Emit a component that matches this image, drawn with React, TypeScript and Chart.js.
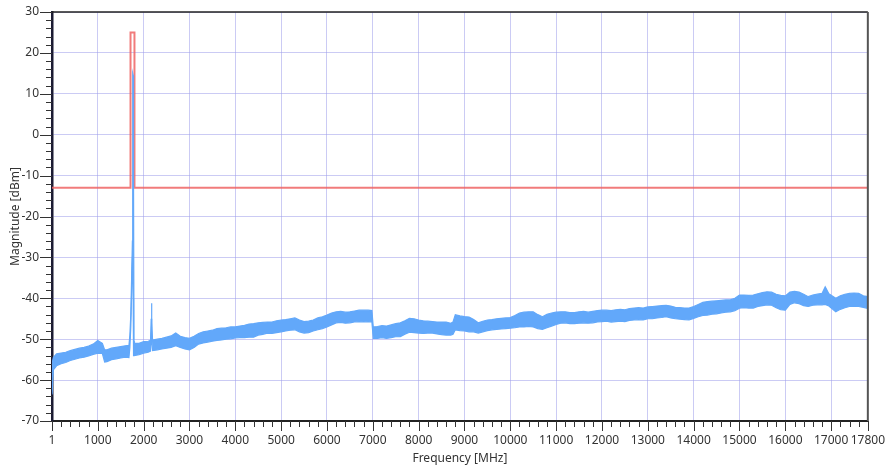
import React, { useEffect, useRef } from 'react';
import { Chart, registerables } from 'chart.js';

Chart.register(...registerables);

// Spectrum trace: frequency points (MHz) with lower / upper envelope of the noisy trace (dBm)
const freqs = [
  1, 30, 100, 200, 300, 400, 500, 600, 700, 800,
  900, 1000, 1100, 1150, 1200, 1300, 1400, 1500, 1600, 1680,
  1700, 1720, 1740, 1755, 1762, 1772, 1780, 1790, 1800, 1900,
  2000, 2100, 2150, 2165, 2172, 2180, 2195, 2300, 2400, 2500,
  2600, 2700, 2800, 2900, 3000, 3100, 3200, 3300, 3400, 3500,
  3600, 3700, 3800, 3900, 4000, 4100, 4200, 4300, 4400, 4500,
  4600, 4700, 4800, 4900, 5000, 5100, 5200, 5300, 5400, 5500,
  5600, 5700, 5800, 5900, 6000, 6100, 6200, 6300, 6400, 6500,
  6600, 6700, 6800, 6900, 6980, 7010, 7100, 7200, 7300, 7400,
  7500, 7600, 7700, 7800, 7900, 8000, 8100, 8200, 8300, 8400,
  8500, 8600, 8700, 8750, 8800, 8900, 9000, 9100, 9200, 9300,
  9400, 9500, 9600, 9700, 9800, 9900, 10000, 10100, 10200, 10300,
  10400, 10500, 10600, 10700, 10800, 10900, 11000, 11100, 11200, 11300,
  11400, 11500, 11600, 11700, 11800, 11900, 12000, 12100, 12200, 12300,
  12400, 12500, 12600, 12700, 12800, 12900, 13000, 13100, 13200, 13300,
  13400, 13500, 13600, 13700, 13800, 13900, 14000, 14100, 14200, 14300,
  14400, 14500, 14600, 14700, 14800, 14900, 15000, 15100, 15200, 15300,
  15400, 15500, 15600, 15700, 15800, 15900, 16000, 16100, 16200, 16300,
  16400, 16500, 16600, 16700, 16800, 16870, 16950, 17100, 17200, 17300,
  17400, 17500, 17600, 17700, 17800,
];

const traceLower = [
  -63.5, -57.5, -56.5, -56.0, -55.7, -55.2, -54.9, -54.6, -54.4, -54.1,
  -53.7, -53.4, -53.5, -55.6, -55.5, -55.0, -54.8, -54.6, -54.4, -54.5,
  -52.0, -47.0, -38.0, -30.0, -26.0, -40.0, -54.0, -54.0, -54.0, -53.8,
  -53.4, -53.2, -52.9, -50.0, -45.0, -50.0, -52.8, -52.6, -52.4, -52.2,
  -52.0, -51.6, -52.0, -52.4, -52.6, -52.0, -51.2, -50.9, -50.7, -50.5,
  -50.3, -50.2, -50.0, -49.9, -49.7, -49.6, -49.6, -49.5, -49.5, -49.0,
  -48.8, -48.5, -48.6, -48.4, -48.2, -48.0, -47.8, -47.7, -48.2, -48.5,
  -48.4, -48.0, -47.7, -47.4, -47.0, -46.5, -46.0, -45.9, -46.1, -46.0,
  -45.8, -45.7, -45.8, -45.7, -45.8, -49.8, -49.8, -49.6, -49.8, -49.6,
  -49.4, -49.4, -48.8, -48.3, -48.4, -48.5, -48.6, -48.5, -48.5, -48.7,
  -48.9, -49.0, -49.0, -48.8, -47.7, -47.9, -48.0, -48.2, -48.2, -48.5,
  -48.2, -47.9, -47.7, -47.6, -47.5, -47.4, -47.3, -47.2, -47.0, -47.0,
  -46.9, -47.0, -47.4, -47.6, -47.2, -46.8, -46.4, -46.1, -46.0, -46.2,
  -46.2, -46.1, -46.0, -46.1, -46.0, -45.8, -45.7, -45.6, -45.8, -45.7,
  -45.6, -45.7, -45.4, -45.3, -45.2, -45.3, -45.0, -45.0, -44.8, -44.7,
  -44.5, -44.8, -45.0, -45.1, -45.2, -45.3, -44.9, -44.5, -44.2, -44.1,
  -43.9, -43.8, -43.6, -43.4, -43.3, -43.0, -42.4, -42.3, -42.4, -42.4,
  -42.0, -41.8, -41.6, -41.7, -42.3, -42.8, -42.9, -41.5, -41.1, -41.3,
  -41.8, -42.0, -41.7, -41.6, -41.6, -41.5, -41.9, -43.3, -42.7, -42.3,
  -42.0, -41.9, -42.0, -42.2, -42.5,
];

const traceUpper = [
  -56.0, -54.5, -53.6, -53.4, -53.2, -52.8, -52.5, -52.2, -52.0, -51.7,
  -51.2, -50.3, -51.0, -52.6, -52.6, -52.2, -52.0, -51.8, -51.6, -51.5,
  -49.0, -44.0, -34.0, -26.0, 15.0, 14.5, -13.0, -50.5, -51.0, -51.0,
  -50.6, -50.5, -50.3, -45.0, -41.2, -46.0, -50.2, -50.0, -49.8, -49.5,
  -49.2, -48.5, -49.3, -49.6, -49.8, -49.3, -48.6, -48.2, -48.0, -47.8,
  -47.4, -47.3, -47.2, -47.0, -47.0, -46.8, -46.6, -46.3, -46.2, -46.0,
  -45.9, -45.8, -45.8, -45.5, -45.3, -45.2, -45.0, -44.8, -45.3, -45.7,
  -45.6, -45.3, -44.8, -44.5, -44.1, -43.6, -43.3, -43.2, -43.4, -43.3,
  -43.1, -42.9, -42.9, -42.9, -43.0, -47.0, -46.9, -46.7, -46.8, -46.5,
  -46.2, -46.0, -45.5, -44.9, -45.0, -45.3, -45.5, -45.6, -45.7, -45.8,
  -45.8, -45.8, -46.1, -45.8, -44.0, -44.3, -44.5, -44.6, -45.2, -46.0,
  -45.6, -45.3, -45.2, -45.0, -44.9, -44.8, -44.7, -44.2, -43.6, -43.4,
  -43.3, -43.3, -44.0, -44.5, -43.9, -43.6, -43.4, -43.3, -43.3, -43.5,
  -43.5, -43.3, -43.2, -43.4, -43.2, -43.0, -42.9, -42.9, -43.0, -42.8,
  -42.7, -42.8, -42.5, -42.4, -42.3, -42.4, -42.1, -42.0, -41.9, -41.8,
  -41.7, -41.9, -42.2, -42.3, -42.4, -42.4, -42.0, -41.5, -41.0, -40.8,
  -40.7, -40.6, -40.5, -40.4, -40.4, -40.0, -39.2, -39.2, -39.3, -39.2,
  -38.9, -38.6, -38.4, -38.5, -39.0, -39.3, -39.4, -38.5, -38.3, -38.5,
  -39.0, -39.6, -39.2, -39.0, -38.8, -37.2, -38.9, -40.0, -39.4, -39.0,
  -38.8, -38.7, -38.8, -39.4, -39.6,
];

// Limit mask (red)
const maskFreq = [1, 1714, 1714, 1800, 1800, 17800];
const maskLevel = [-13, -13, 25, 25, -13, -13];

// Axis ticks
const xMajorTicks = [1, 1000, 2000, 3000, 4000, 5000, 6000, 7000, 8000, 9000, 10000, 11000, 12000, 13000, 14000, 15000, 16000, 17000, 17800];
const yMajorTicks = [-70, -60, -50, -40, -30, -20, -10, 0, 10, 20, 30];
const xMinorStep = 200;
const yMinorStep = 2;

const X_MIN = 1;
const X_MAX = 17800;
const Y_MIN = -70;
const Y_MAX = 30;

const FONT = '"Noto Sans", "Open Sans", sans-serif';
const BLUE = '#62a8fa';

const frameAndTicks = {
  id: 'frameAndTicks',
  afterDraw(chart: any) {
    const { ctx, chartArea: a, scales } = chart;
    const x = scales.x;
    const y = scales.y;
    ctx.save();
    ctx.strokeStyle = '#333';
    ctx.lineWidth = 1;
    // x ticks
    const xVals: number[] = [];
    for (let v = xMinorStep; v < X_MAX; v += xMinorStep) xVals.push(v);
    xVals.push(X_MIN, X_MAX);
    xVals.forEach((v) => {
      const major = xMajorTicks.includes(v);
      const px = Math.round(x.getPixelForValue(v)) + 0.5;
      ctx.beginPath();
      ctx.moveTo(px, a.bottom);
      ctx.lineTo(px, a.bottom + (major ? 10 : 6));
      ctx.stroke();
    });
    // y ticks
    for (let v = Y_MIN; v <= Y_MAX; v += yMinorStep) {
      const major = yMajorTicks.includes(v);
      const py = Math.round(y.getPixelForValue(v)) + 0.5;
      ctx.beginPath();
      ctx.moveTo(a.left, py);
      ctx.lineTo(a.left - (major ? 12 : 6), py);
      ctx.stroke();
    }
    // top & right frame
    ctx.strokeStyle = '#222';
    ctx.lineWidth = 1.5;
    ctx.beginPath();
    ctx.moveTo(a.left, a.top);
    ctx.lineTo(a.right, a.top);
    ctx.stroke();
    ctx.strokeStyle = '#555';
    ctx.lineWidth = 2;
    ctx.beginPath();
    ctx.moveTo(a.right, a.top);
    ctx.lineTo(a.right, a.bottom);
    ctx.stroke();
    ctx.restore();
  },
};

export default function App() {
  const ref = useRef<HTMLCanvasElement | null>(null);

  useEffect(() => {
    if (!ref.current) return;
    const upperData = freqs.map((f, i) => ({ x: f, y: traceUpper[i] }));
    const lowerData = freqs.map((f, i) => ({ x: f, y: traceLower[i] }));
    const maskData = maskFreq.map((f, i) => ({ x: f, y: maskLevel[i] }));

    const chart = new Chart(ref.current, {
      type: 'line',
      data: {
        datasets: [
          {
            label: 'Trace upper',
            data: upperData,
            borderColor: BLUE,
            backgroundColor: BLUE,
            borderWidth: 1.2,
            pointRadius: 0,
            tension: 0,
            fill: '+1',
            order: 0,
          },
          {
            label: 'Trace lower',
            data: lowerData,
            borderColor: BLUE,
            backgroundColor: BLUE,
            borderWidth: 1.2,
            pointRadius: 0,
            tension: 0,
            fill: false,
            order: 0,
          },
          {
            label: 'Mask',
            data: maskData,
            borderColor: 'rgba(238, 100, 100, 0.85)',
            borderWidth: 2,
            pointRadius: 0,
            tension: 0,
            fill: false,
            order: 1,
          },
        ],
      },
      options: {
        responsive: false,
        animation: false,
        layout: { padding: { top: 12, right: 19, left: 0, bottom: 0 } },
        plugins: {
          legend: { display: false },
          tooltip: { enabled: false },
        },
        scales: {
          x: {
            type: 'linear',
            min: X_MIN,
            max: X_MAX,
            afterBuildTicks: (s: any) => {
              s.ticks = xMajorTicks.map((v) => ({ value: v }));
            },
            afterFit: (s: any) => {
              s.height = 49;
            },
            ticks: {
              autoSkip: false,
              maxRotation: 0,
              padding: 2,
              color: '#333',
              font: { family: FONT, size: 12 },
              callback: (v: any) => String(v),
            },
            grid: {
              color: 'rgba(160, 160, 235, 0.55)',
              lineWidth: 1,
              tickLength: 10,
              tickColor: 'rgba(0,0,0,0)',
            },
            border: { color: '#222', width: 2 },
            title: {
              display: true,
              text: 'Frequency [MHz]',
              color: '#333',
              font: { family: FONT, size: 12 },
              padding: { top: 0, bottom: 4 },
            },
          },
          y: {
            type: 'linear',
            min: Y_MIN,
            max: Y_MAX,
            afterBuildTicks: (s: any) => {
              s.ticks = yMajorTicks.map((v) => ({ value: v }));
            },
            afterFit: (s: any) => {
              s.width = 52;
            },
            ticks: {
              autoSkip: false,
              padding: 1,
              color: '#333',
              font: { family: FONT, size: 12 },
              callback: (v: any) => String(v),
            },
            grid: {
              color: 'rgba(160, 160, 235, 0.55)',
              lineWidth: 1,
              tickLength: 12,
              tickColor: 'rgba(0,0,0,0)',
            },
            border: { color: '#1b1b33', width: 2.5 },
            title: {
              display: true,
              text: 'Magnitude [dBm]',
              color: '#333',
              font: { family: FONT, size: 12 },
              padding: { top: 8, bottom: 0 },
            },
          },
        },
      },
      plugins: [frameAndTicks],
    });
    return () => chart.destroy();
  }, []);

  return (
    <div style={{ position: 'fixed', left: 0, top: 0, width: 887, height: 470, background: '#fff' }}>
      <canvas ref={ref} width={887} height={470} style={{ display: 'block' }} />
    </div>
  );
}
